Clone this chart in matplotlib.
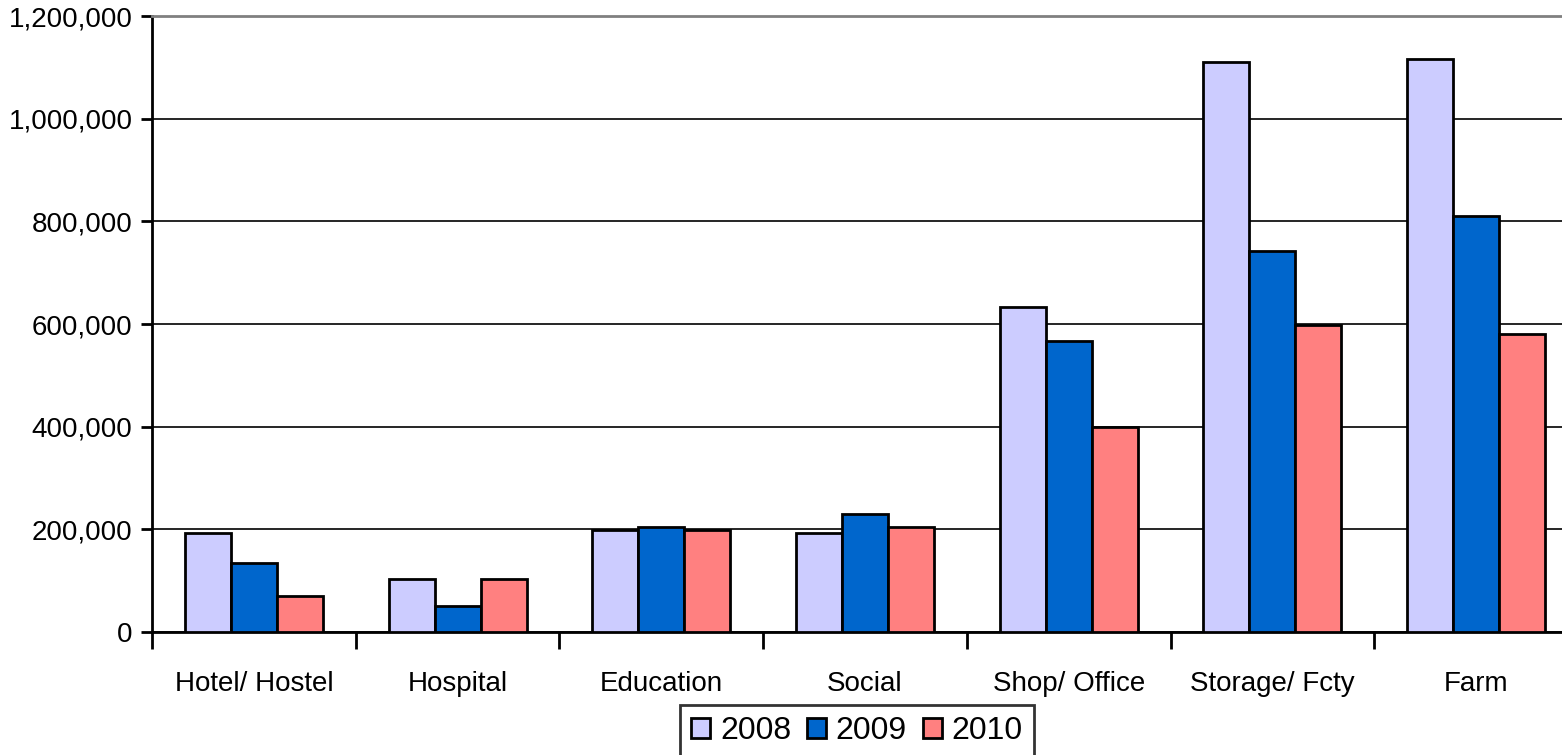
import numpy as np
import matplotlib.pyplot as plt
from matplotlib.ticker import FuncFormatter, FixedLocator

plt.rcParams['font.family'] = ['Liberation Sans', 'DejaVu Sans']

categories = ['Hotel/ Hostel', 'Hospital', 'Education', 'Social',
              'Shop/ Office', 'Storage/ Fcty', 'Farm']
years = ['2008', '2009', '2010']
v2008 = [193000, 103000, 198000, 193000, 633000, 1110000, 1116000]
v2009 = [134000, 51000, 204000, 230000, 567000, 742000, 810000]
v2010 = [70000, 103000, 198000, 204000, 400000, 598000, 580000]
colors = ['#ccccff', '#0066cc', '#ff8080']

fig = plt.figure(figsize=(15.62, 7.55), dpi=100)
ax = fig.add_axes([152 / 1562, 1 - 632 / 755, 1426 / 1562, 616 / 755])

x = np.arange(len(categories))
w = 0.226
for i, (vals, c, lab) in enumerate(zip([v2008, v2009, v2010], colors, years)):
    ax.bar(x + (i - 1) * w, vals, w, color=c, edgecolor='black',
           linewidth=2, label=lab, zorder=3)

ax.set_xlim(-0.5, len(categories) - 0.5)
ax.set_ylim(0, 1200000)
ax.set_yticks(np.arange(0, 1200001, 200000))
ax.yaxis.set_major_formatter(FuncFormatter(lambda v, p: f'{int(v):,}'))
ax.grid(axis='y', color='black', linewidth=1.2, zorder=0)

ax.set_xticks(x)
ax.set_xticklabels(categories, fontsize=20)
ax.tick_params(axis='x', length=0, pad=28)
ax.xaxis.set_minor_locator(FixedLocator(np.arange(-0.5, len(categories), 1)))
ax.tick_params(axis='x', which='minor', length=12, width=2, direction='out')
ax.tick_params(axis='y', labelsize=20, length=8, width=2, direction='out', pad=6)

ax.spines['right'].set_visible(False)
ax.spines['top'].set_color('#808080')
ax.spines['top'].set_linewidth(2)
ax.spines['left'].set_linewidth(2)
ax.spines['bottom'].set_linewidth(2)

leg = fig.legend(loc='center', bbox_to_anchor=(857 / 1562, 1 - 731 / 755),
                 ncol=3, fontsize=23, frameon=True, fancybox=False,
                 edgecolor='black', handlelength=0.6, handleheight=0.6,
                 handletextpad=0.3, columnspacing=0.5, borderpad=0.35)
leg.get_frame().set_linewidth(2)

fig.savefig('out.png', dpi=100)
